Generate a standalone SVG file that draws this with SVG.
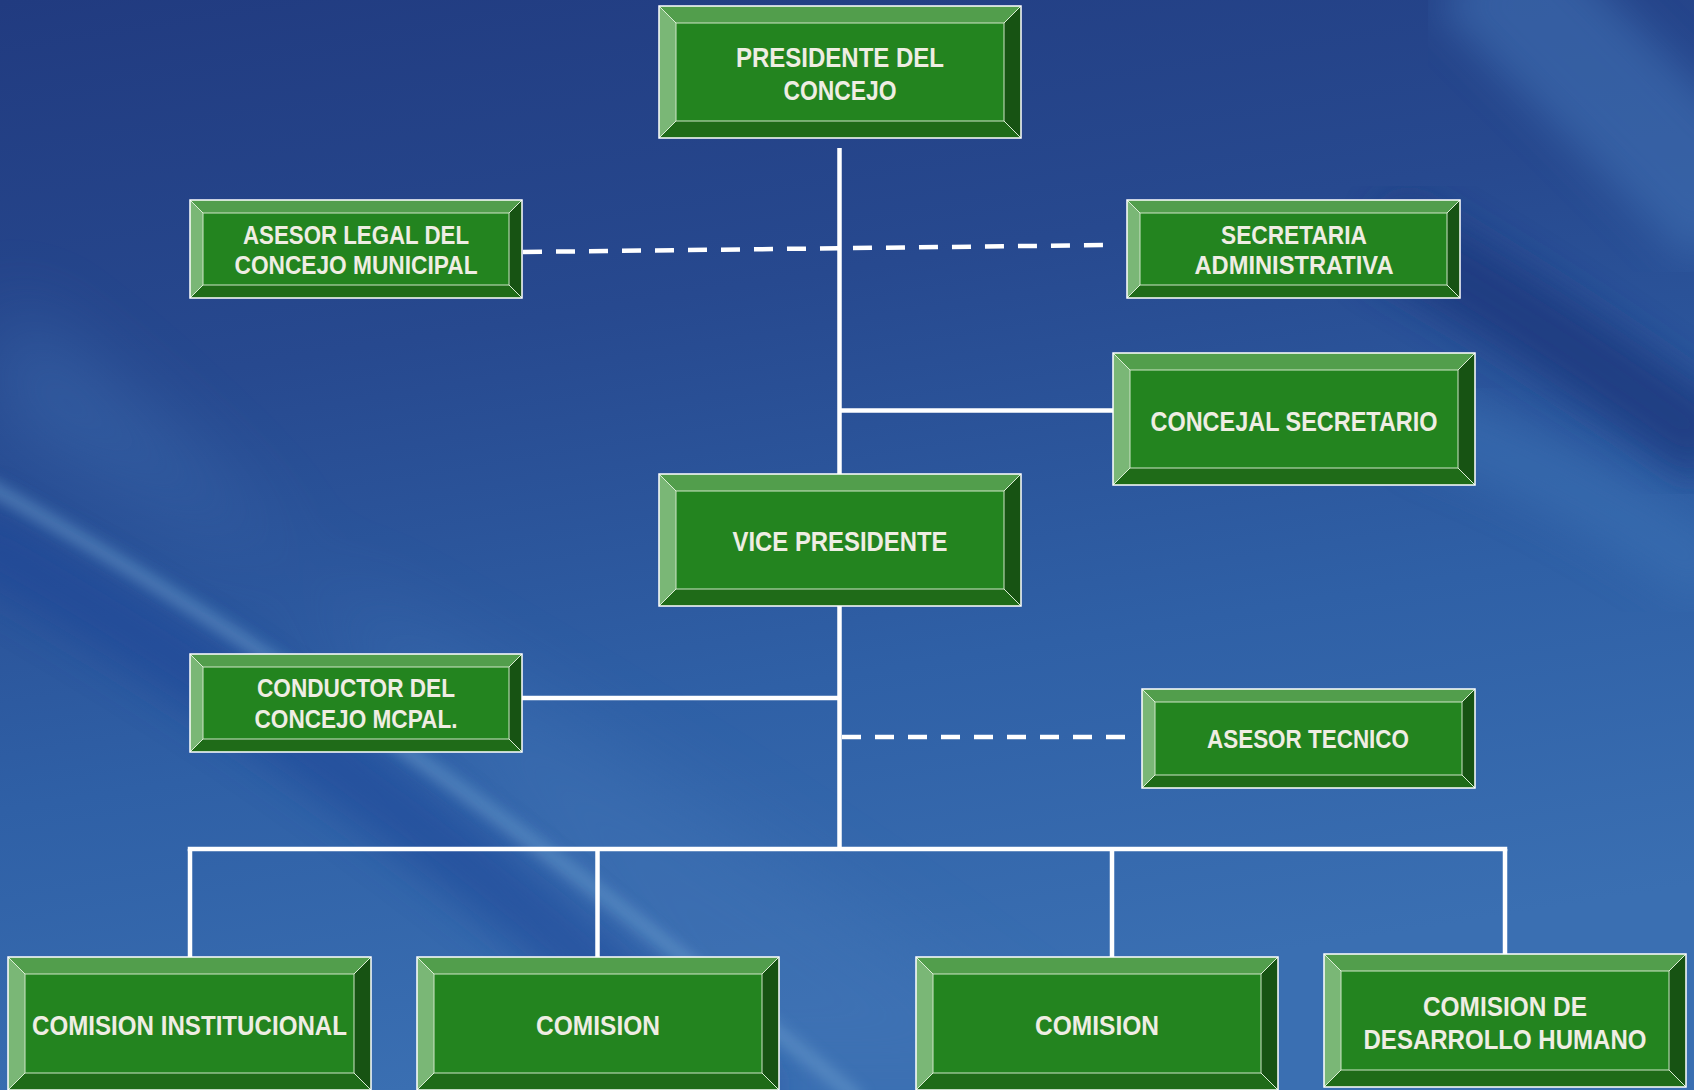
<svg xmlns="http://www.w3.org/2000/svg" width="1694" height="1090" viewBox="0 0 1694 1090">
<defs>
<linearGradient id="bg" x1="0" y1="0" x2="0.25" y2="1">
<stop offset="0" stop-color="#213b80"/>
<stop offset="0.35" stop-color="#27498f"/>
<stop offset="0.7" stop-color="#2f60a6"/>
<stop offset="1" stop-color="#3a6fb2"/>
</linearGradient>
<filter id="blur20" x="-20%" y="-20%" width="140%" height="140%"><feGaussianBlur stdDeviation="20"/></filter>
<filter id="blur8" x="-20%" y="-20%" width="140%" height="140%"><feGaussianBlur stdDeviation="7"/></filter>
<filter id="blur40" x="-30%" y="-30%" width="160%" height="160%"><feGaussianBlur stdDeviation="40"/></filter>
<style>
.top{fill:#529e4c}
.lft{fill:#7ab776}
.rgt{fill:#175313}
.bot{fill:#1f6b18}
.face{fill:#23841f;stroke:#cfe6c8;stroke-width:1}
.outer{fill:none;stroke:#ffffff;stroke-width:1.5}
.diag{stroke:#dcefd6;stroke-width:1}
.t{font-family:"Liberation Sans Narrow","Liberation Sans",Arial,sans-serif;font-weight:bold;fill:#efede3;text-anchor:middle}
.s28{font-size:28px}
.s25{font-size:25px}
.s27{font-size:27px}
.ln{stroke:#ffffff;stroke-width:4.5;fill:none}
.dash{stroke:#ffffff;stroke-width:4.5;fill:none;stroke-dasharray:19 14}
</style>
</defs>

<g id="background">
<rect x="0" y="0" width="1694" height="1090" fill="url(#bg)"/>
<path d="M 0 300 Q 300 500 700 1090 L 1100 1090 Q 600 700 0 420 Z" fill="#4274b6" opacity="0.45" filter="url(#blur40)"/>
<path d="M -40 530 Q 380 760 760 1110" stroke="#1f4596" stroke-width="70" fill="none" opacity="0.55" filter="url(#blur20)"/>
<path d="M -40 470 Q 380 700 860 1100" stroke="#6d9fcf" stroke-width="14" fill="none" opacity="0.55" filter="url(#blur8)"/>
<path d="M 1480 -40 Q 1600 80 1740 220" stroke="#3f70b2" stroke-width="130" fill="none" opacity="0.6" filter="url(#blur20)"/>
<path d="M 1380 230 Q 1540 320 1720 450" stroke="#1e387d" stroke-width="80" fill="none" opacity="0.8" filter="url(#blur20)"/>
<path d="M 1420 420 Q 1580 480 1720 580" stroke="#3b6fb2" stroke-width="70" fill="none" opacity="0.6" filter="url(#blur20)"/>
</g>

<g id="connectors">
<line class="ln" x1="839.5" y1="148" x2="839.5" y2="474"/>
<line class="ln" x1="839.5" y1="606" x2="839.5" y2="851"/>
<line class="ln" x1="839.5" y1="410.5" x2="1113" y2="410.5"/>
<line class="ln" x1="522" y1="698" x2="839.5" y2="698"/>
<line class="ln" x1="187.75" y1="849" x2="1507.25" y2="849"/>
<line class="ln" x1="190" y1="849" x2="190" y2="957"/>
<line class="ln" x1="597.5" y1="849" x2="597.5" y2="957"/>
<line class="ln" x1="1112" y1="849" x2="1112" y2="957"/>
<line class="ln" x1="1505" y1="849" x2="1505" y2="954"/>
<line class="dash" x1="523" y1="252" x2="1112" y2="245"/>
<line class="dash" x1="842" y1="737" x2="1128" y2="737"/>
</g>

<g id="presidente">
<polygon class="top" points="659,6 1021,6 1004,23 676,23"/>
<polygon class="lft" points="659,6 676,23 676,121 659,138"/>
<polygon class="rgt" points="1021,6 1021,138 1004,121 1004,23"/>
<polygon class="bot" points="659,138 676,121 1004,121 1021,138"/>
<rect class="face" x="676" y="23" width="328" height="98"/>
<path class="diag" d="M659,6 L676,23 M1021,6 L1004,23 M659,138 L676,121 M1021,138 L1004,121"/>
<rect class="outer" x="659" y="6" width="362" height="132"/>
<text class="t s28" x="840" y="67" textLength="208" lengthAdjust="spacingAndGlyphs">PRESIDENTE DEL</text>
<text class="t s28" x="840" y="100" textLength="113" lengthAdjust="spacingAndGlyphs">CONCEJO</text>
</g>

<g id="asesor-legal">
<polygon class="top" points="190,200 522,200 509,213 203,213"/>
<polygon class="lft" points="190,200 203,213 203,285 190,298"/>
<polygon class="rgt" points="522,200 522,298 509,285 509,213"/>
<polygon class="bot" points="190,298 203,285 509,285 522,298"/>
<rect class="face" x="203" y="213" width="306" height="72"/>
<path class="diag" d="M190,200 L203,213 M522,200 L509,213 M190,298 L203,285 M522,298 L509,285"/>
<rect class="outer" x="190" y="200" width="332" height="98"/>
<text class="t s25" x="356" y="244" textLength="226" lengthAdjust="spacingAndGlyphs">ASESOR LEGAL DEL</text>
<text class="t s25" x="356" y="274" textLength="243" lengthAdjust="spacingAndGlyphs">CONCEJO MUNICIPAL</text>
</g>

<g id="secretaria">
<polygon class="top" points="1127,200 1460,200 1447,213 1140,213"/>
<polygon class="lft" points="1127,200 1140,213 1140,285 1127,298"/>
<polygon class="rgt" points="1460,200 1460,298 1447,285 1447,213"/>
<polygon class="bot" points="1127,298 1140,285 1447,285 1460,298"/>
<rect class="face" x="1140" y="213" width="307" height="72"/>
<path class="diag" d="M1127,200 L1140,213 M1460,200 L1447,213 M1127,298 L1140,285 M1460,298 L1447,285"/>
<rect class="outer" x="1127" y="200" width="333" height="98"/>
<text class="t s25" x="1294" y="244" textLength="146" lengthAdjust="spacingAndGlyphs">SECRETARIA</text>
<text class="t s25" x="1294" y="274" textLength="199" lengthAdjust="spacingAndGlyphs">ADMINISTRATIVA</text>
</g>

<g id="concejal-secretario">
<polygon class="top" points="1113,353 1475,353 1458,370 1130,370"/>
<polygon class="lft" points="1113,353 1130,370 1130,468 1113,485"/>
<polygon class="rgt" points="1475,353 1475,485 1458,468 1458,370"/>
<polygon class="bot" points="1113,485 1130,468 1458,468 1475,485"/>
<rect class="face" x="1130" y="370" width="328" height="98"/>
<path class="diag" d="M1113,353 L1130,370 M1475,353 L1458,370 M1113,485 L1130,468 M1475,485 L1458,468"/>
<rect class="outer" x="1113" y="353" width="362" height="132"/>
<text class="t s28" x="1294" y="431" textLength="287" lengthAdjust="spacingAndGlyphs">CONCEJAL SECRETARIO</text>
</g>

<g id="vice-presidente">
<polygon class="top" points="659,474 1021,474 1004,491 676,491"/>
<polygon class="lft" points="659,474 676,491 676,589 659,606"/>
<polygon class="rgt" points="1021,474 1021,606 1004,589 1004,491"/>
<polygon class="bot" points="659,606 676,589 1004,589 1021,606"/>
<rect class="face" x="676" y="491" width="328" height="98"/>
<path class="diag" d="M659,474 L676,491 M1021,474 L1004,491 M659,606 L676,589 M1021,606 L1004,589"/>
<rect class="outer" x="659" y="474" width="362" height="132"/>
<text class="t s28" x="840" y="551" textLength="215" lengthAdjust="spacingAndGlyphs">VICE PRESIDENTE</text>
</g>

<g id="conductor">
<polygon class="top" points="190,654 522,654 509,667 203,667"/>
<polygon class="lft" points="190,654 203,667 203,739 190,752"/>
<polygon class="rgt" points="522,654 522,752 509,739 509,667"/>
<polygon class="bot" points="190,752 203,739 509,739 522,752"/>
<rect class="face" x="203" y="667" width="306" height="72"/>
<path class="diag" d="M190,654 L203,667 M522,654 L509,667 M190,752 L203,739 M522,752 L509,739"/>
<rect class="outer" x="190" y="654" width="332" height="98"/>
<text class="t s25" x="356" y="697" textLength="198" lengthAdjust="spacingAndGlyphs">CONDUCTOR DEL</text>
<text class="t s25" x="356" y="728" textLength="203" lengthAdjust="spacingAndGlyphs">CONCEJO MCPAL.</text>
</g>

<g id="asesor-tecnico">
<polygon class="top" points="1142,689 1475,689 1462,702 1155,702"/>
<polygon class="lft" points="1142,689 1155,702 1155,775 1142,788"/>
<polygon class="rgt" points="1475,689 1475,788 1462,775 1462,702"/>
<polygon class="bot" points="1142,788 1155,775 1462,775 1475,788"/>
<rect class="face" x="1155" y="702" width="307" height="73"/>
<path class="diag" d="M1142,689 L1155,702 M1475,689 L1462,702 M1142,788 L1155,775 M1475,788 L1462,775"/>
<rect class="outer" x="1142" y="689" width="333" height="99"/>
<text class="t s25" x="1308" y="748" textLength="202" lengthAdjust="spacingAndGlyphs">ASESOR TECNICO</text>
</g>

<g id="comision-institucional">
<polygon class="top" points="8,957 371,957 354,974 25,974"/>
<polygon class="lft" points="8,957 25,974 25,1073 8,1090"/>
<polygon class="rgt" points="371,957 371,1090 354,1073 354,974"/>
<polygon class="bot" points="8,1090 25,1073 354,1073 371,1090"/>
<rect class="face" x="25" y="974" width="329" height="99"/>
<path class="diag" d="M8,957 L25,974 M371,957 L354,974 M8,1090 L25,1073 M371,1090 L354,1073"/>
<rect class="outer" x="8" y="957" width="363" height="133"/>
<text class="t s28" x="189.5" y="1035" textLength="315" lengthAdjust="spacingAndGlyphs">COMISION INSTITUCIONAL</text>
</g>

<g id="comision-1">
<polygon class="top" points="417,957 779,957 762,974 434,974"/>
<polygon class="lft" points="417,957 434,974 434,1073 417,1090"/>
<polygon class="rgt" points="779,957 779,1090 762,1073 762,974"/>
<polygon class="bot" points="417,1090 434,1073 762,1073 779,1090"/>
<rect class="face" x="434" y="974" width="328" height="99"/>
<path class="diag" d="M417,957 L434,974 M779,957 L762,974 M417,1090 L434,1073 M779,1090 L762,1073"/>
<rect class="outer" x="417" y="957" width="362" height="133"/>
<text class="t s28" x="598" y="1035" textLength="124" lengthAdjust="spacingAndGlyphs">COMISION</text>
</g>

<g id="comision-2">
<polygon class="top" points="916,957 1278,957 1261,974 933,974"/>
<polygon class="lft" points="916,957 933,974 933,1073 916,1090"/>
<polygon class="rgt" points="1278,957 1278,1090 1261,1073 1261,974"/>
<polygon class="bot" points="916,1090 933,1073 1261,1073 1278,1090"/>
<rect class="face" x="933" y="974" width="328" height="99"/>
<path class="diag" d="M916,957 L933,974 M1278,957 L1261,974 M916,1090 L933,1073 M1278,1090 L1261,1073"/>
<rect class="outer" x="916" y="957" width="362" height="133"/>
<text class="t s28" x="1097" y="1035" textLength="124" lengthAdjust="spacingAndGlyphs">COMISION</text>
</g>

<g id="comision-desarrollo-humano">
<polygon class="top" points="1324,954 1686,954 1669,971 1341,971"/>
<polygon class="lft" points="1324,954 1341,971 1341,1070 1324,1087"/>
<polygon class="rgt" points="1686,954 1686,1087 1669,1070 1669,971"/>
<polygon class="bot" points="1324,1087 1341,1070 1669,1070 1686,1087"/>
<rect class="face" x="1341" y="971" width="328" height="99"/>
<path class="diag" d="M1324,954 L1341,971 M1686,954 L1669,971 M1324,1087 L1341,1070 M1686,1087 L1669,1070"/>
<rect class="outer" x="1324" y="954" width="362" height="133"/>
<text class="t s27" x="1505" y="1016" textLength="164" lengthAdjust="spacingAndGlyphs">COMISION DE</text>
<text class="t s27" x="1505" y="1049" textLength="283" lengthAdjust="spacingAndGlyphs">DESARROLLO HUMANO</text>
</g>
</svg>
